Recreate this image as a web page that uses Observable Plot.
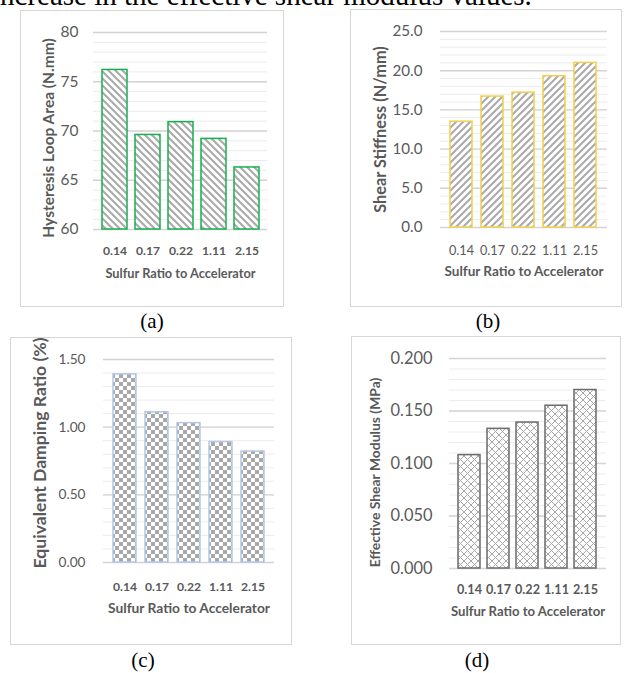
<!DOCTYPE html>
<html>
<head>
<meta charset="utf-8">
<script src="https://cdn.jsdelivr.net/npm/d3@7"></script>
<script src="https://cdn.jsdelivr.net/npm/@observablehq/plot@0.6"></script>
<style>
  html, body { margin: 0; padding: 0; background: #fff; }
  body { width: 624px; height: 673px; overflow: hidden; position: relative; font-family: Lato, sans-serif; }
  .frame { position: absolute; box-sizing: border-box; border: 1px solid #d6d6d6; background: #fff; }
  .plotbox { position: absolute; }
  #overlay { position: absolute; left: 0; top: 0; }
</style>
</head>
<body>
<svg id="defs" width="0" height="0" style="position:absolute">
  <defs>
    <pattern id="patA" patternUnits="userSpaceOnUse" width="7" height="7">
      <rect width="7" height="7" fill="#fff"/>
      <path d="M-1,-1 L8,8 M-1,6 L1,8 M6,-1 L8,1" stroke="#ababab" stroke-width="2.1"/>
    </pattern>
    <pattern id="patB" patternUnits="userSpaceOnUse" width="7" height="7">
      <rect width="7" height="7" fill="#fff"/>
      <path d="M-1,8 L8,-1 M-1,1 L1,-1 M6,8 L8,6" stroke="#ababab" stroke-width="2.1"/>
    </pattern>
    <pattern id="patC" patternUnits="userSpaceOnUse" width="8" height="8">
      <rect width="8" height="8" fill="#fff"/>
      <rect x="0" y="0" width="4" height="4" fill="#a8a8a8"/>
      <rect x="4" y="4" width="4" height="4" fill="#a8a8a8"/>
    </pattern>
    <pattern id="patD" patternUnits="userSpaceOnUse" width="7" height="7">
      <rect width="7" height="7" fill="#fff"/>
      <path d="M-1,-1 L8,8 M-1,8 L8,-1" stroke="#a8a8a8" stroke-width="1"/>
    </pattern>
  </defs>
</svg>

<svg id="overlay" width="624" height="673">
  <text x="-8" y="5" font-family="'Liberation Serif','Times New Roman',serif" font-size="29" fill="#000">increase in the effective shear modulus values.</text>
  <text x="152" y="328" text-anchor="middle" font-family="'Liberation Serif','Times New Roman',serif" font-size="21" fill="#000">(a)</text>
  <text x="488" y="328" text-anchor="middle" font-family="'Liberation Serif','Times New Roman',serif" font-size="21" fill="#000">(b)</text>
  <text x="143" y="667" text-anchor="middle" font-family="'Liberation Serif','Times New Roman',serif" font-size="21" fill="#000">(c)</text>
  <text x="477" y="667" text-anchor="middle" font-family="'Liberation Serif','Times New Roman',serif" font-size="21" fill="#000">(d)</text>
</svg>

<div class="frame" style="left:20px;top:10px;width:264px;height:297px"></div>
<div class="frame" style="left:350px;top:9px;width:272px;height:298px"></div>
<div class="frame" style="left:10px;top:337px;width:282px;height:308px"></div>
<div class="frame" style="left:351px;top:336px;width:270px;height:309px"></div>

<div id="pa" class="plotbox" style="left:21px;top:11px"></div>
<div id="pb" class="plotbox" style="left:351px;top:10px"></div>
<div id="pc" class="plotbox" style="left:11px;top:338px"></div>
<div id="pd" class="plotbox" style="left:352px;top:337px"></div>

<script>
// ---- data ----
const categories = ["0.14", "0.17", "0.22", "1.11", "2.15"];
const xAxisTitle = "Sulfur Ratio to Accelerator";

const hysteresisLoopArea = [76.2, 69.6, 70.9, 69.2, 66.3];
const shearStiffness = [13.5, 16.7, 17.2, 19.3, 21.0];
const dampingRatio = [1.39, 1.11, 1.03, 0.89, 0.82];
const shearModulus = [0.108, 0.133, 0.139, 0.155, 0.170];

const ticksA = [60, 65, 70, 75, 80];
const ticksB = [0, 5, 10, 15, 20, 25];
const ticksC = [0, 0.5, 1.0, 1.5];
const ticksD = [0, 0.05, 0.10, 0.15, 0.20];

const minorStepA = 1, minorStepB = 1, minorStepC = 0.1, minorStepD = 0.01;

function minorTicks(lo, hi, step) {
  const n = Math.round((hi - lo) / step);
  return d3.range(n + 1).map(i => +(lo + i * step).toFixed(6));
}

// font size that gives a text a wanted rendered width (style only)
const ctx = document.createElement("canvas").getContext("2d");
function fitSize(text, weight, target) {
  ctx.font = `${weight} 100px Lato`;
  return 100 * target / ctx.measureText(text).width;
}

function drawPanel(cfg) {
  const rows = categories.map((c, i) => ({cat: c, v: cfg.values[i]}));
  const lo = cfg.ticks[0], hi = cfg.ticks[cfg.ticks.length - 1];
  const yFont = fitSize(cfg.fmt(hi), "normal", cfg.yTickW);
  const xFont = fitSize(categories[0], cfg.xWeight, cfg.xTickW);
  const xTitleFont = fitSize(xAxisTitle, "bold", cfg.xTitleW);
  const yTitleFont = fitSize(cfg.yTitle, "bold", cfg.yTitleW);
  const chart = Plot.plot({
    width: cfg.w, height: cfg.h,
    marginLeft: cfg.mL, marginRight: cfg.mR, marginTop: cfg.mT, marginBottom: cfg.mB,
    style: {fontFamily: "Lato, sans-serif", color: "#595959", background: "transparent", overflow: "visible"},
    x: {type: "band", domain: categories, padding: cfg.pad},
    y: {domain: [lo, hi]},
    marks: [
      Plot.ruleY(minorTicks(lo, hi, cfg.minorStep), {stroke: "#ececec", strokeWidth: 1}),
      Plot.ruleY(cfg.ticks, {stroke: "#d4d4d4", strokeWidth: 1.4}),
      Plot.barY(rows, {x: "cat", y1: lo, y2: "v", fill: `url(#${cfg.pattern})`, stroke: cfg.stroke, strokeWidth: 1.5}),
      Plot.axisY(cfg.ticks, {tickSize: 0, tickPadding: cfg.yPad, tickFormat: cfg.fmt, fontSize: yFont, label: null}),
      Plot.axisX({tickSize: 0, tickPadding: cfg.xPad, fontSize: xFont, fontWeight: cfg.xWeight, label: null}),
      Plot.text([xAxisTitle], {text: d => d, frameAnchor: "bottom", textAnchor: "middle", dy: cfg.xTitleDy, fontWeight: "bold", fontSize: xTitleFont, fill: "#595959"}),
      Plot.text([cfg.yTitle], {text: d => d, frameAnchor: "left", textAnchor: "middle", lineAnchor: "middle", dx: cfg.yTitleDx, dy: cfg.yTitleDy, rotate: -90, fontWeight: "bold", fontSize: yTitleFont, fill: "#595959"})
    ]
  });
  document.getElementById(cfg.el).appendChild(chart);
}

drawPanel({
  el: "pa", values: hysteresisLoopArea, ticks: ticksA, minorStep: minorStepA,
  w: 262, h: 295, mL: 72, mR: 16, mT: 21, mB: 77, pad: 0.25,
  pattern: "patA", stroke: "#16b04f",
  fmt: d3.format("d"), yPad: 15, yTickW: 18,
  xPad: 17, xTickW: 24, xWeight: "bold",
  xTitleDy: 48, xTitleW: 151,
  yTitle: "Hysteresis Loop Area (N.mm)", yTitleDx: -44, yTitleDy: 7, yTitleW: 200
});

drawPanel({
  el: "pb", values: shearStiffness, ticks: ticksB, minorStep: minorStepB,
  w: 271, h: 297, mL: 89, mR: 15, mT: 21, mB: 80, pad: 0.29,
  pattern: "patB", stroke: "#f2d04a",
  fmt: d3.format(".1f"), yPad: 18, yTickW: 30,
  xPad: 18.5, xTickW: 25, xWeight: "normal",
  xTitleDy: 48, xTitleW: 160,
  yTitle: "Shear Stiffness (N/mm)", yTitleDx: -60, yTitleDy: 0, yTitleW: 167
});

drawPanel({
  el: "pc", values: dampingRatio, ticks: ticksC, minorStep: minorStepC,
  w: 281, h: 307, mL: 92, mR: 18, mT: 21, mB: 83, pad: 0.29,
  pattern: "patC", stroke: "#b4c7e7",
  fmt: d3.format(".2f"), yPad: 18, yTickW: 27,
  xPad: 20, xTickW: 24, xWeight: "bold",
  xTitleDy: 50, xTitleW: 163,
  yTitle: "Equivalent Damping Ratio (%)", yTitleDx: -63, yTitleDy: -8, yTitleW: 231
});

drawPanel({
  el: "pd", values: shearModulus, ticks: ticksD, minorStep: minorStepD,
  w: 269, h: 308, mL: 97, mR: 15, mT: 21, mB: 77, pad: 0.235,
  pattern: "patD", stroke: "#6b6b6b",
  fmt: d3.format(".3f"), yPad: 17, yTickW: 42,
  xPad: 16.5, xTickW: 25, xWeight: "bold",
  xTitleDy: 47, xTitleW: 155,
  yTitle: "Effective Shear Modulus (MPa)", yTitleDx: -74, yTitleDy: 9, yTitleW: 190
});
</script>
</body>
</html>
